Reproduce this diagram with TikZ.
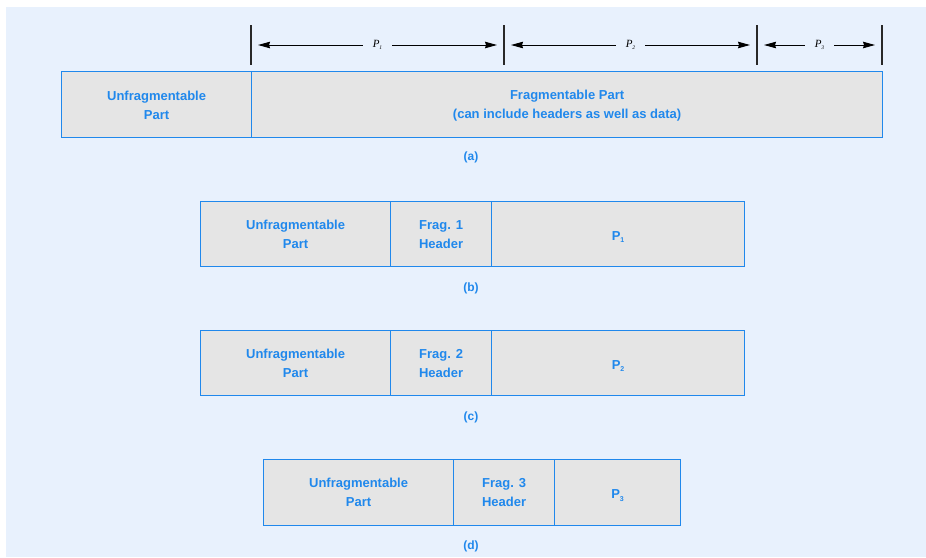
\documentclass[tikz,border=0pt]{standalone}
\usepackage{fontspec}
\setmainfont{Liberation Sans}
\newfontfamily\dimfont{Liberation Serif}
\usetikzlibrary{arrows.meta}
\definecolor{pagebg}{RGB}{232,241,253}
\definecolor{cellfill}{RGB}{229,229,229}
\definecolor{blueink}{RGB}{32,136,236}
\definecolor{tickgray}{RGB}{40,40,40}
\newcommand{\subidx}[1]{\raisebox{-2.5pt}{\fontsize{7}{8}\selectfont #1}}
\newcommand{\dimlabel}[1]{{\dimfont\itshape\fontsize{11}{12}\selectfont P\raisebox{-2pt}{\fontsize{5.5}{6}\selectfont #1}}}
\newcommand{\payload}[1]{\rule{0pt}{14.5pt}P\subidx{#1}}
\begin{document}
\begin{tikzpicture}[x=1pt,y=-1pt,
  cell/.style={draw=blueink, line width=1.2pt, fill=cellfill, anchor=north west,
    inner sep=0pt, align=center, text=blueink, font=\bfseries\fontsize{13}{19}\selectfont},
  caption/.style={text=blueink, font=\bfseries\fontsize{12}{14}\selectfont},
  tick/.style={draw=tickgray, line width=1.5pt},
  dim/.style={draw=black, line width=1pt, {Stealth[length=12pt,width=6.5pt,inset=1pt]}-{Stealth[length=12pt,width=6.5pt,inset=1pt]}, shorten <=7pt, shorten >=7pt},
  dimtext/.style={fill=pagebg, inner xsep=10pt, inner ysep=2pt}]
  \useasboundingbox (0,0) rectangle (926,557);
  \fill[white] (0,0) rectangle (926,557);
  \fill[pagebg] (6,7) rectangle (926,557);

  % (a) whole packet
  \node[cell, minimum width=190pt, minimum height=66pt] (aU) at (61,71) {\rule{0pt}{11pt}Unfragmentable\\Part};
  \node[cell, minimum width=631pt, minimum height=66pt] (aF) at (251,71) {\rule{0pt}{11pt}Fragmentable Part\\(can include headers as well as data)};
  \node[caption] (capA) at (471,157) {(a)};

  % fragment boundaries
  \coordinate (k0t) at (251,25); \coordinate (k0b) at (251,65);
  \coordinate (k1t) at (504,25); \coordinate (k1b) at (504,65);
  \coordinate (k2t) at (757,25); \coordinate (k2b) at (757,65);
  \coordinate (k3t) at (882,25); \coordinate (k3b) at (882,65);
  \draw[tick] (k0t) -- (k0b);
  \draw[tick] (k1t) -- (k1b);
  \draw[tick] (k2t) -- (k2b);
  \draw[tick] (k3t) -- (k3b);
  \coordinate (m0) at (251,45); \coordinate (m1) at (504,45);
  \coordinate (m2) at (757,45); \coordinate (m3) at (882,45);
  \draw[dim] (m0) -- (m1) node[pos=0.5, dimtext] (d1) {\dimlabel{1}};
  \draw[dim] (m1) -- (m2) node[pos=0.5, dimtext] (d2) {\dimlabel{2}};
  \draw[dim] (m2) -- (m3) node[pos=0.5, dimtext] (d3) {\dimlabel{3}};

  % (b) first fragment
  \node[cell, minimum width=190pt, minimum height=65pt] (bU) at (200,201) {Unfragmentable\\Part};
  \node[cell, minimum width=101pt, minimum height=65pt] (bH) at (390,201) {Frag. 1\\Header};
  \node[cell, minimum width=253pt, minimum height=65pt] (bP) at (491,201) {\payload{1}};
  \node[caption] (capB) at (471,288) {(b)};

  % (c) second fragment
  \node[cell, minimum width=190pt, minimum height=65pt] (cU) at (200,330) {Unfragmentable\\Part};
  \node[cell, minimum width=101pt, minimum height=65pt] (cH) at (390,330) {Frag. 2\\Header};
  \node[cell, minimum width=253pt, minimum height=65pt] (cP) at (491,330) {\payload{2}};
  \node[caption] (capC) at (471,417) {(c)};

  % (d) third fragment
  \node[cell, minimum width=190pt, minimum height=66pt] (dU) at (263,459) {Unfragmentable\\Part};
  \node[cell, minimum width=101pt, minimum height=66pt] (dH) at (453,459) {Frag. 3\\Header};
  \node[cell, minimum width=126pt, minimum height=66pt] (dP) at (554,459) {\payload{3}};
  \node[caption] (capD) at (471,546) {(d)};
\end{tikzpicture}
\end{document}
